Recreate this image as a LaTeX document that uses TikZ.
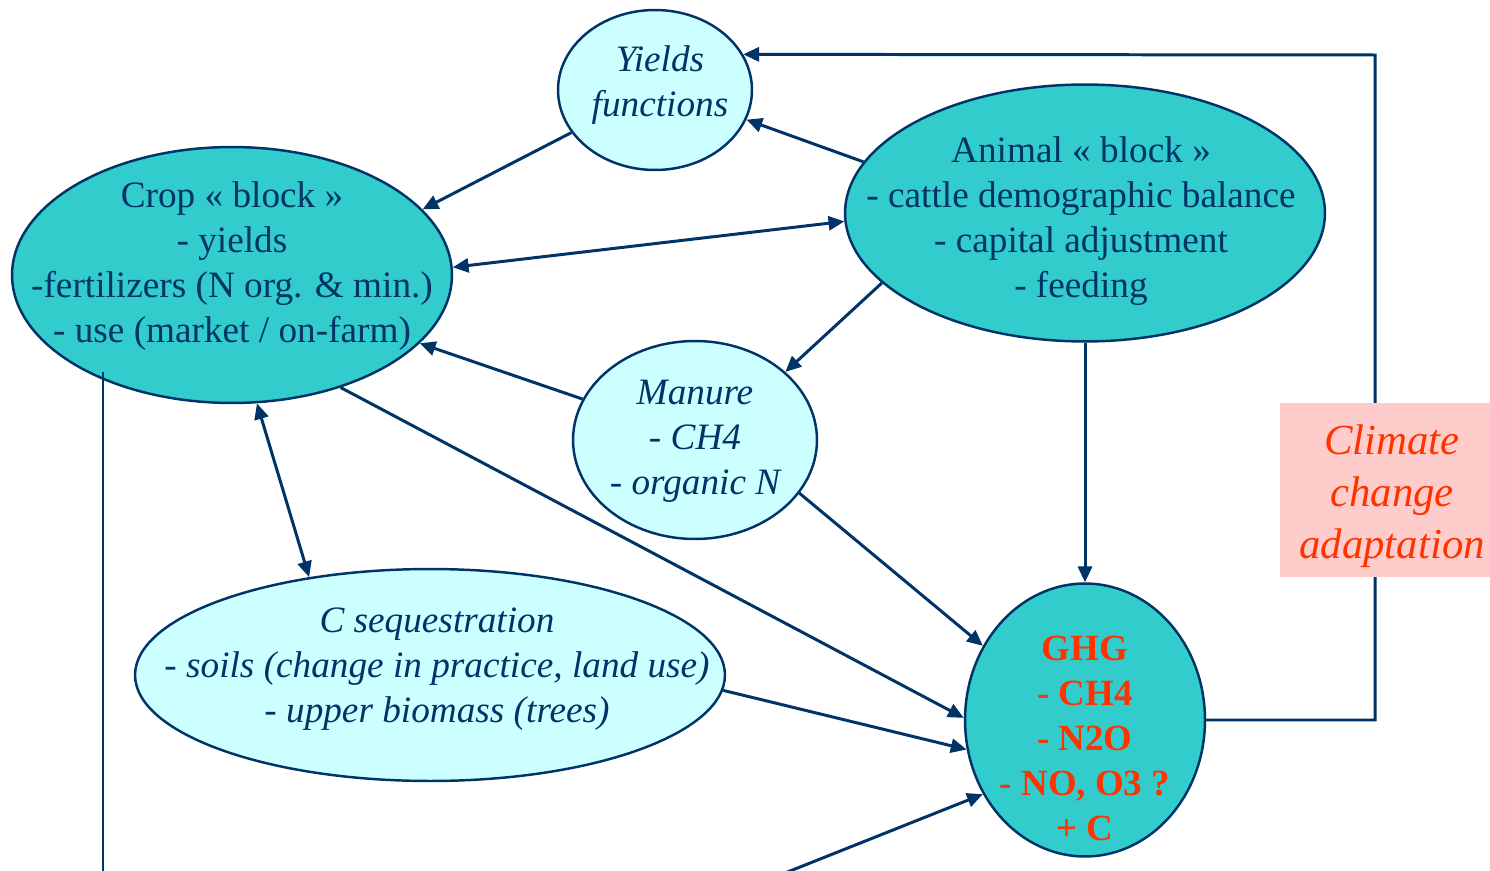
\documentclass[tikz,border=0pt]{standalone}
\usepackage{fontspec}
\setmainfont{Liberation Serif}
\usetikzlibrary{arrows.meta,positioning,shapes.geometric}

\definecolor{navy}{HTML}{003366}
\definecolor{blockfill}{HTML}{33CCCC}
\definecolor{subfill}{HTML}{CCFFFF}
\definecolor{adaptfill}{HTML}{FFCCCC}
\definecolor{alert}{HTML}{FF3300}

\begin{document}
\begin{tikzpicture}[x=0.02cm, y=-0.02cm,
    % --- Ellipse styles ---
    block/.style={ellipse, draw=navy, line width=1.4pt, fill=blockfill, inner sep=0pt},
    subblock/.style={ellipse, draw=navy, line width=1.4pt, fill=subfill, inner sep=0pt},
    % --- Text styles ---
    blocktext/.style={align=center, text=navy, font=\fontsize{21.2}{25.6}\selectfont},
    subtext/.style={blocktext, font=\itshape\fontsize{21.2}{25.6}\selectfont},
    gastext/.style={align=center, text=alert, font=\bfseries\fontsize{21}{25.6}\selectfont},
    adapt/.style={fill=adaptfill, minimum width=4.2cm, minimum height=3.48cm, inner sep=0pt},
    adapttext/.style={align=center, text=alert, font=\itshape\fontsize{24.4}{29.5}\selectfont},
    % --- Connector styles ---
    link/.style={draw=navy, line width=1.7pt},
    flow/.style={link, -{Triangle[length=9pt,width=8pt]}},
    twoway/.style={link, {Triangle[length=9pt,width=8pt]}-{Triangle[length=9pt,width=8pt]}},
]
\useasboundingbox (0,0) rectangle (1490,871);

% ============================================================
% Blocks
% ============================================================
\node[subblock, minimum width=3.88cm, minimum height=3.2cm,
      label={[subtext, xshift=0.1cm, yshift=0.1cm]center:{Yields\\functions}}] (yields) at (655,90) {};

\node[block, minimum width=8.8cm, minimum height=5.12cm,
      label={[blocktext, yshift=0.18cm]center:{Crop « block »\\- yields\\-fertilizers (N org. \& min.)\\- use (market / on-farm)}}]
      (crop) at (232,275) {};

\node[block, minimum width=9.6cm, minimum height=5.14cm,
      label={[blocktext, xshift=-0.08cm, yshift=-0.16cm]center:{Animal « block »\\- cattle demographic balance\\- capital adjustment\\- feeding}}]
      (animal) at (1085,213) {};

\node[subblock, minimum width=4.88cm, minimum height=3.96cm,
      label={[subtext, yshift=-0.02cm]center:{Manure\\- CH4\\- organic N}}] (manure) at (695,440) {};

\node[subblock, minimum width=11.8cm, minimum height=4.24cm,
      label={[subtext, xshift=0.14cm, yshift=0.12cm]center:{C sequestration\\- soils (change in practice, land use)\\- upper biomass (trees)}}]
      (cseq) at (430,675) {};

\node[block, minimum width=4.8cm, minimum height=5.46cm,
      label={[gastext, yshift=-0.37cm]center:{GHG\\- CH4\\- N2O\\- NO, O3 ?\\+ C}}] (ghg) at (1085,720) {};

% --- Free ends of connectors ---
\coordinate (loopTop)   at (1375,55);
\coordinate (cropDrop)  at (103,372);
\coordinate (offBottom) at (103,875);
\coordinate (offLeft)   at (780,875);

% ============================================================
% Connectors
% ============================================================
\draw[flow]   (yields.207) -- (crop.19);
\draw[flow]   (animal.167) -- (yields.342);
\draw[twoway] (crop.2) -- (animal.182);
\draw[flow]   (animal.199) -- (manure.37);
\draw[flow]   (manure.160) -- (crop.340);
\draw[twoway] (crop.281) -- (cseq.141);
\draw[flow]   (crop.314) -- (ghg.179);
\draw[flow]   (manure.333) -- (ghg.144);
\draw[flow]   (cseq.357) -- (ghg.194);
\draw[flow]   (animal.south) -- (ghg.north);
\draw[link]   (cropDrop) -- (offBottom);
\draw[flow]   (offLeft) -- (ghg.216);

% --- Feedback loop, through the adaptation box ---
\draw[flow] (ghg.east) -| (loopTop) -- (yields.22);
\node[adapt, label={[adapttext, xshift=0.14cm, yshift=-0.12cm]center:{Climate\\change\\adaptation}}]
      (climate) at (1385,490) {};

\end{tikzpicture}
\end{document}
